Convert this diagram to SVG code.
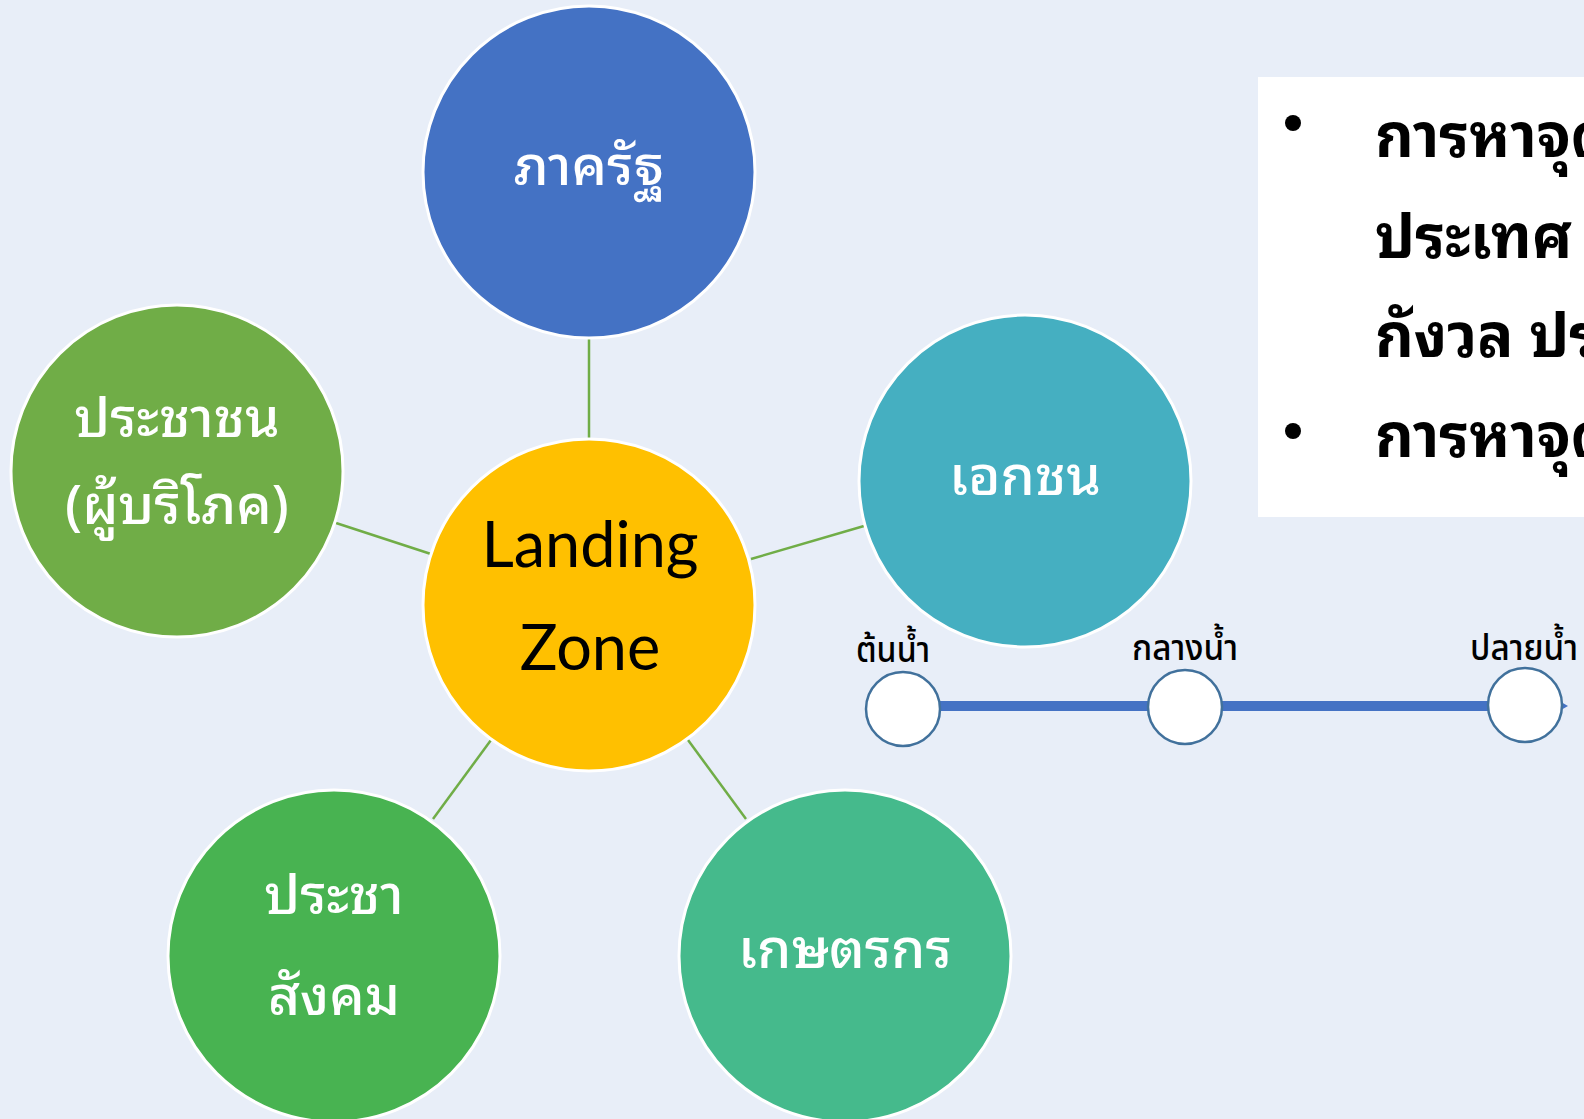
<svg xmlns="http://www.w3.org/2000/svg" width="1584" height="1119" viewBox="0 0 1584 1119">
<style>
.node{stroke:#FFFFFF;stroke-width:3}
.lbl{font-family:"Noto Sans Thai Looped","Loma","Garuda","Norasi","Noto Sans Thai","Noto Sans","Liberation Sans",sans-serif;font-size:55px;font-weight:500;fill:#FFFFFF;text-anchor:middle}
.conn{stroke:#70AD47;stroke-width:2.5;fill:none}
.box{font-family:"Noto Sans Thai Looped","Loma","Garuda","Noto Sans Thai","Noto Sans","Liberation Sans",sans-serif;font-size:60px;font-weight:bold;fill:#000000}
.tl{font-family:"Noto Sans Thai","Liberation Sans Narrow","Liberation Sans",sans-serif;font-size:36px;font-weight:500;fill:#000000;text-anchor:middle}
.stop{fill:#FFFFFF;stroke:#41719C;stroke-width:2.5}
</style>
<defs>
<marker id="ah" markerWidth="7" markerHeight="8" refX="0" refY="4" orient="auto" markerUnits="userSpaceOnUse"><path d="M0,0 L7,4 L0,8 Z" fill="#4472C4"/></marker>
</defs>
<rect x="0" y="0" width="1584" height="1119" fill="#E8EEF8"/>
<g id="connectors">
<line class="conn" x1="589" y1="339" x2="589" y2="438"/>
<line class="conn" x1="336" y1="523" x2="431" y2="554"/>
<line class="conn" x1="751" y1="559" x2="864" y2="526"/>
<line class="conn" x1="491" y1="740" x2="433" y2="819"/>
<line class="conn" x1="688" y1="740" x2="746" y2="819"/>
</g>
<g id="node-state">
<circle class="node" cx="589" cy="172" r="166" fill="#4472C4"/>
<text class="lbl" x="589" y="185">ภาครัฐ</text>
</g>
<g id="node-people">
<circle class="node" cx="177" cy="471" r="166" fill="#70AD47"/>
<text class="lbl" x="177" y="437">ประชาชน</text>
<text class="lbl" x="177" y="524">(ผู้บริโภค)</text>
</g>
<g id="node-private">
<circle class="node" cx="1025" cy="481" r="166" fill="#45AFC1"/>
<text class="lbl" x="1025" y="495">เอกชน</text>
</g>
<g id="node-landing">
<circle class="node" cx="589" cy="605" r="166" fill="#FFC000"/>
<text x="590" y="567" font-family="Lato, 'Open Sans', sans-serif" font-size="63" fill="#000000" text-anchor="middle">Landing</text>
<text x="590" y="670" font-family="Lato, 'Open Sans', sans-serif" font-size="63" fill="#000000" text-anchor="middle">Zone</text>
</g>
<g id="node-civil">
<circle class="node" cx="334" cy="956" r="166" fill="#48B351"/>
<text class="lbl" x="334" y="914">ประชา</text>
<text class="lbl" x="334" y="1015">สังคม</text>
</g>
<g id="node-farmer">
<circle class="node" cx="845" cy="956" r="166" fill="#45BA8C"/>
<text class="lbl" x="845" y="968">เกษตรกร</text>
</g>
<g id="textbox">
<rect x="1258" y="77" width="340" height="440" fill="#FFFFFF"/>
<circle cx="1293" cy="123" r="8" fill="#000000"/>
<circle cx="1293" cy="431" r="8" fill="#000000"/>
<text class="box" x="1375" y="157">การหาจุด</text>
<text class="box" x="1375" y="258">ประเทศ</text>
<text class="box" x="1375" y="357">กังวล ประ</text>
<text class="box" x="1375" y="457">การหาจุด</text>
</g>
<g id="timeline">
<line x1="940" y1="706" x2="1561" y2="706" stroke="#4472C4" stroke-width="10" marker-end="url(#ah)"/>
<circle class="stop" cx="903" cy="709" r="37"/>
<circle class="stop" cx="1185" cy="707" r="37"/>
<circle class="stop" cx="1525" cy="705" r="37"/>
<text class="tl" x="893" y="662" textLength="74" lengthAdjust="spacingAndGlyphs">ต้นน้ำ</text>
<text class="tl" x="1185" y="660" textLength="106" lengthAdjust="spacingAndGlyphs">กลางน้ำ</text>
<text class="tl" x="1524" y="660" textLength="108" lengthAdjust="spacingAndGlyphs">ปลายน้ำ</text>
</g>
</svg>
